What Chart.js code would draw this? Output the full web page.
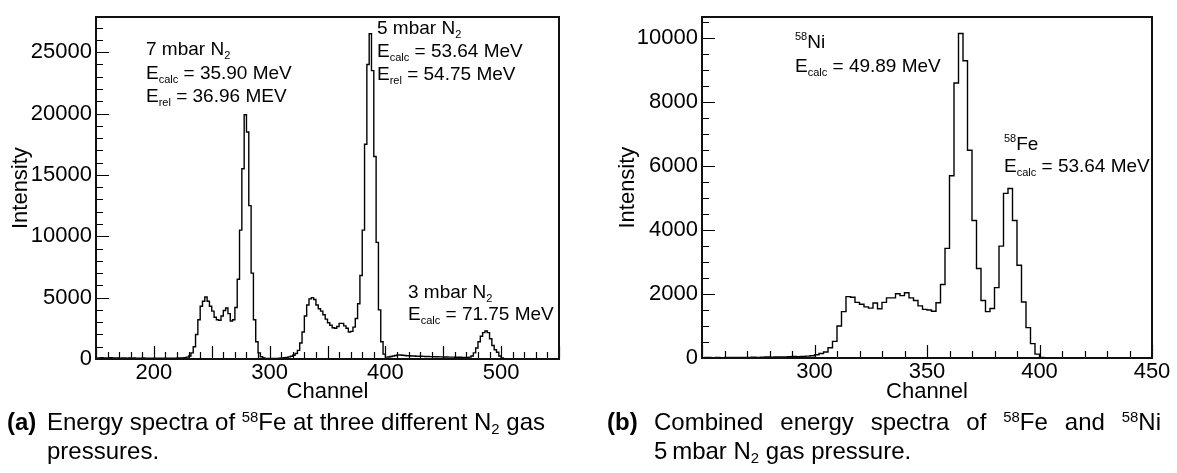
<!DOCTYPE html>
<html>
<head>
<meta charset="utf-8">
<script src="https://cdn.jsdelivr.net/npm/chart.js@4.4.1/dist/chart.umd.min.js"></script>
<style>
  html, body { margin: 0; padding: 0; background: #fff; }
  body { width: 1177px; height: 473px; position: relative; overflow: hidden;
         font-family: "Liberation Sans", Arial, sans-serif; color: #000; }
  canvas { position: absolute; top: 0; }
  #chartA { left: 0; }
  #chartB { left: 600px; }
  .cap { position: absolute; font-size: 24px; line-height: 29px; white-space: nowrap; }
  .cap .sp { font-size: 0.62em; position: relative; top: -0.55em; }
  .cap .sb { font-size: 0.62em; position: relative; top: 0.25em; }
  .lab { position: absolute; font-size: 24px; line-height: 29px; font-weight: bold; }
  .just { text-align: justify; text-align-last: justify; white-space: normal; }
</style>
</head>
<body>
<canvas id="chartA" width="600" height="410"></canvas>
<canvas id="chartB" width="577" height="410"></canvas>

<div class="lab" style="left:7px;top:407px">(a)</div>
<div class="cap" style="left:47px;top:407px">Energy spectra of <span class="sp">58</span>Fe at three different N<span class="sb">2</span> gas</div>
<div class="cap" style="left:47px;top:436px">pressures.</div>

<div class="lab" style="left:607px;top:407px">(b)</div>
<div class="cap just" style="left:654px;top:407px;width:507px">Combined energy spectra of <span class="sp">58</span>Fe and <span class="sp">58</span>Ni</div>
<div class="cap" style="left:654px;top:436px">5&thinsp;mbar N<span class="sb">2</span> gas pressure.</div>

<script>
// ---- Spectrum (a): 58Fe at 7, 5 and 3 mbar N2, counts per 2-channel bin from channel 150 ----
const binStartA = 150;
const binWidthA = 2;
const countsA = [
  90, 80, 100, 90, 80, 90, 100, 80, 90, 80,          // 150-168
  70, 80, 90, 70, 80, 70, 80, 70, 60, 70,            // 170-188
  80, 60, 70, 60, 70, 60, 60, 70, 60, 60,            // 190-208
  70, 60, 70, 60, 70, 80, 80, 90, 110, 150,          // 210-228
  250, 500, 1000, 2000, 3200, 4300, 4700, 5050, 4700, 4300,     // 230-248
  3900, 3400, 3200, 3150, 3500, 3950, 4150, 3700, 3100, 3200,   // 250-268
  4200, 6500, 10500, 15500, 19900, 18500, 12500, 7000, 3200, 1400, // 270-288
  500, 180, 80, 50, 40, 40, 40, 50, 50, 60,          // 290-308
  80, 100, 130, 170, 220, 300, 450, 700, 1300, 2200, // 310-328
  3500, 4400, 4900, 5000, 4850, 4400, 4100, 3900, 3600, 3250,   // 330-348
  2950, 2750, 2550, 2500, 2650, 2900, 2900, 2700, 2500, 2200,   // 350-368
  2250, 2600, 3300, 4500, 6800, 10500, 17500, 24000, 26500, 23500, // 370-388
  16500, 9500, 4000, 1400, 400, 150, 160, 200, 250, 290,        // 390-408
  320, 330, 310, 290, 270, 260, 250, 240, 230, 220,  // 410-428
  220, 210, 200, 200, 190, 190, 180, 180, 170, 170,  // 430-448
  160, 160, 150, 150, 150, 140, 140, 140, 130, 130,  // 450-468
  130, 150, 250, 500, 900, 1400, 1850, 2150, 2280, 2150,        // 470-488
  1650, 1100, 750, 550, 250, 80, 30, 20, 15, 10,     // 490-508
  10, 10, 10, 10, 10, 10, 10, 10, 10, 10,            // 510-528
  10, 10, 10, 10, 10, 10, 10, 10, 10, 10             // 530-548
];
const xRangeA = [150, 550];
const yMaxA = 27850;
const xTicksA = [200, 300, 400, 500];
const yTicksA = [0, 5000, 10000, 15000, 20000, 25000];

// ---- Spectrum (b): 58Fe + 58Ni at 5 mbar N2, counts per 2-channel bin from channel 250 ----
const binStartB = 250;
const binWidthB = 2;
const countsB = [
  15, 15, 10, 15, 10, 15, 20, 15, 20, 15,            // 250-268
  20, 25, 20, 25, 30, 25, 30, 35, 30, 40,            // 270-288
  45, 40, 50, 60, 70, 100, 140, 190, 320, 520,       // 290-308
  1000, 1450, 1920, 1900, 1740, 1680, 1600, 1560, 1720, 1540,   // 310-328
  1740, 1880, 1880, 2010, 1950, 2040, 1880, 1800, 1630, 1520,   // 330-348
  1500, 1460, 1730, 2300, 3430, 5700, 8600, 10150, 9300, 6500,  // 350-368
  4300, 2800, 1800, 1450, 1550, 2200, 3500, 5150, 5300, 4300,   // 370-388
  2900, 1750, 950, 450, 120, 20, 0, 0, 0, 0,         // 390-408
  0, 0, 0, 0, 0, 0, 0, 0, 0, 0,                      // 410-428
  0, 0, 0, 0, 0, 0, 0, 0, 0, 0                       // 430-448
];
const xRangeB = [250, 450];
const yMaxB = 10660;
const xTicksB = [300, 350, 400, 450];
const yTicksB = [0, 2000, 4000, 6000, 8000, 10000];

// Peak annotations: [x, baseline y] in canvas pixels, then rich-text parts
const notesA = [
  [146, 55,  [{t: '7 mbar N'}, {t: '2', sub: true}]],
  [146, 79,  [{t: 'E'}, {t: 'calc', sub: true}, {t: ' = 35.90 MeV'}]],
  [146, 102, [{t: 'E'}, {t: 'rel', sub: true}, {t: ' = 36.96 MEV'}]],
  [377, 34,  [{t: '5 mbar N'}, {t: '2', sub: true}]],
  [377, 57,  [{t: 'E'}, {t: 'calc', sub: true}, {t: ' = 53.64 MeV'}]],
  [377, 80,  [{t: 'E'}, {t: 'rel', sub: true}, {t: ' = 54.75 MeV'}]],
  [408, 298, [{t: '3 mbar N'}, {t: '2', sub: true}]],
  [408, 320, [{t: 'E'}, {t: 'calc', sub: true}, {t: ' = 71.75 MeV'}]]
];
const notesB = [
  [195, 48,  [{t: '58', sup: true}, {t: 'Ni'}]],
  [195, 72,  [{t: 'E'}, {t: 'calc', sub: true}, {t: ' = 49.89 MeV'}]],
  [404, 150, [{t: '58', sup: true}, {t: 'Fe'}]],
  [404, 172, [{t: 'E'}, {t: 'calc', sub: true}, {t: ' = 53.64 MeV'}]]
];

const FONT = '"Liberation Sans", Arial, sans-serif';

function drawRich(ctx, x, y, parts, size) {
  let cx = x;
  ctx.textBaseline = 'alphabetic';
  ctx.textAlign = 'left';
  for (const p of parts) {
    let fs = size, dy = 0;
    if (p.sub) { fs = Math.round(size * 0.58); dy = size * 0.22; }
    if (p.sup) { fs = Math.round(size * 0.6); dy = -size * 0.4; }
    ctx.font = fs + 'px ' + FONT;
    ctx.fillText(p.t, cx, y + dy);
    cx += ctx.measureText(p.t).width;
  }
}

// Frame, inward tick marks and text notes drawn on top of the plot
const decorPlugin = {
  id: 'decor',
  afterDraw(chart) {
    const o = chart.options.plugins.decor;
    const ctx = chart.ctx;
    const a = chart.chartArea;
    const xs = chart.scales.x, ys = chart.scales.y;
    ctx.save();
    ctx.strokeStyle = '#000';
    ctx.lineWidth = 1.2;
    ctx.beginPath();
    for (let v = Math.ceil(xs.min / o.xMinor) * o.xMinor; v <= xs.max + 1e-6; v += o.xMinor) {
      const px = Math.round(xs.getPixelForValue(v)) + 0.5;
      const len = (Math.abs(v % o.xMajor) < 1e-6) ? o.majLen : o.minLen;
      ctx.moveTo(px, a.bottom);
      ctx.lineTo(px, a.bottom - len);
    }
    for (let v = 0; v <= ys.max + 1e-6; v += o.yMinor) {
      const py = Math.round(ys.getPixelForValue(v)) + 0.5;
      const len = (Math.abs(v % o.yMajor) < 1e-6) ? o.majLen : o.minLen;
      ctx.moveTo(a.left, py);
      ctx.lineTo(a.left + len, py);
    }
    ctx.stroke();
    ctx.lineWidth = 2;
    ctx.strokeStyle = '#111';
    ctx.strokeRect(Math.round(a.left), Math.round(a.top), Math.round(a.right - a.left), Math.round(a.bottom - a.top));
    ctx.fillStyle = '#000';
    for (const n of o.notes) drawRich(ctx, n[0], n[1], n[2], 19);
    ctx.restore();
  }
};

function buildChart(id, cfg) {
  const pts = cfg.counts.map((c, i) => ({ x: cfg.start + cfg.width * (i + 0.5), y: c }));
  return new Chart(document.getElementById(id), {
    type: 'line',
    data: { datasets: [{
      data: pts, stepped: 'middle', borderColor: '#000', borderWidth: 1.4,
      pointRadius: 0, fill: false
    }] },
    options: {
      responsive: false, animation: false, events: [],
      layout: { padding: { top: cfg.padTop, right: cfg.padRight, left: 0, bottom: 0 } },
      plugins: {
        legend: { display: false }, tooltip: { enabled: false },
        decor: { notes: cfg.notes, xMinor: cfg.xMinor, xMajor: cfg.xMajor,
                 yMinor: cfg.yMinor, yMajor: cfg.yMajor, majLen: 13, minLen: 7 }
      },
      scales: {
        x: {
          type: 'linear', min: cfg.xRange[0], max: cfg.xRange[1],
          afterFit: s => { s.height = cfg.xHeight; },
          afterBuildTicks: s => { s.ticks = cfg.xTicks.map(v => ({ value: v })); },
          grid: { display: false, drawTicks: false }, border: { display: false },
          ticks: { color: '#000', font: { family: FONT, size: 22 }, padding: 1,
                   maxRotation: 0, autoSkip: false, callback: v => String(v) },
          title: { display: true, text: 'Channel', color: '#000',
                   font: { family: FONT, size: 22 }, padding: { top: 0, bottom: 5 } }
        },
        y: {
          type: 'linear', min: 0, max: cfg.yMax,
          afterFit: s => { s.width = cfg.yWidth; },
          afterBuildTicks: s => { s.ticks = cfg.yTicks.map(v => ({ value: v })); },
          grid: { display: false, drawTicks: false }, border: { display: false },
          ticks: { color: '#000', font: { family: FONT, size: 22 }, padding: 4,
                   autoSkip: false, callback: v => String(v) },
          title: { display: true, text: 'Intensity', color: '#000',
                   font: { family: FONT, size: 22 }, padding: { top: cfg.yTitlePad, bottom: 0 } }
        }
      }
    },
    plugins: [decorPlugin]
  });
}

buildChart('chartA', {
  counts: countsA, start: binStartA, width: binWidthA,
  xRange: xRangeA, yMax: yMaxA, xTicks: xTicksA, yTicks: yTicksA,
  xMinor: 10, xMajor: 50, yMinor: 1000, yMajor: 5000,
  padTop: 10, padRight: 41, xHeight: 51, yWidth: 96, yTitlePad: 8, notes: notesA
});

buildChart('chartB', {
  counts: countsB, start: binStartB, width: binWidthB,
  xRange: xRangeB, yMax: yMaxB, xTicks: xTicksB, yTicks: yTicksB,
  xMinor: 10, xMajor: 50, yMinor: 500, yMajor: 2000,
  padTop: 12, padRight: 25, xHeight: 52, yWidth: 102, yTitlePad: 15, notes: notesB
});
</script>
</body>
</html>
